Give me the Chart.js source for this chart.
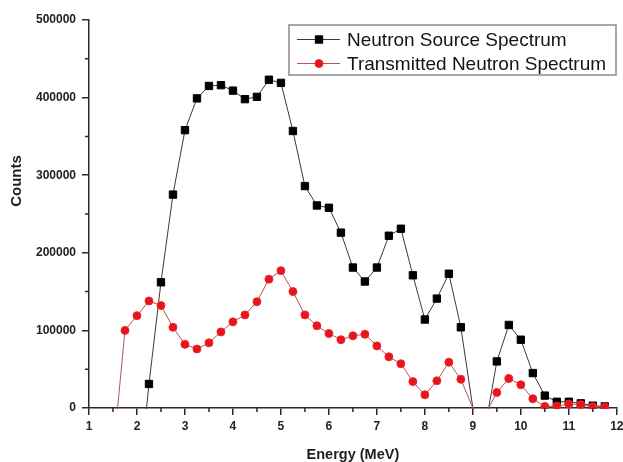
<!DOCTYPE html>
<html>
<head>
<meta charset="utf-8">
<script src="https://cdn.jsdelivr.net/npm/chart.js@4.4.1/dist/chart.umd.min.js"></script>
<style>
  html, body { margin: 0; padding: 0; background: #fff; }
  #wrap { width: 623px; height: 462px; }
</style>
</head>
<body>
<div id="wrap"><canvas id="spectrumChart" width="623" height="462"></canvas></div>
<script>
// energy bins in MeV (0.25 MeV steps)
const energy = [
    1.5, 1.75, 2, 2.25, 2.5, 2.75, 3, 3.25, 3.5, 3.75,
    4, 4.25, 4.5, 4.75, 5, 5.25, 5.5, 5.75, 6, 6.25,
    6.5, 6.75, 7, 7.25, 7.5, 7.75, 8, 8.25, 8.5, 8.75,
    9, 9.25, 9.5, 9.75, 10, 10.25, 10.5, 10.75, 11, 11.25,
    11.5, 11.75
];

// counts, negative values fall below the axis and get clipped like in the original plot
const sourceCounts = [
    null, null, -120000, 31000, 162000, 275000, 358000, 399000, 415000, 416000,
    409000, 398000, 401000, 423000, 419000, 357000, 286000, 261000, 258000, 226000,
    181000, 163000, 181000, 222000, 231000, 171000, 114000, 141000, 173000, 104000,
    0, -28000, 60000, 107000, 88000, 45000, 16000, 8000, 8000, 6000,
    3000, 2000
];
const transmittedCounts = [
    -62000, 100000, 119000, 138000, 132000, 104000, 82000, 76000, 84000, 98000,
    111000, 120000, 137000, 166000, 177000, 150000, 120000, 106000, 96000, 88000,
    93000, 95000, 80000, 66000, 57000, 34000, 17000, 35000, 59000, 37000,
    0, -9000, 20000, 38000, 30000, 12000, 2000, 2500, 5000, 4300,
    1700, 1300
];

const seriesLabels = ['Neutron Source Spectrum', 'Transmitted Neutron Spectrum'];
const yTicks = [0, 100000, 200000, 300000, 400000, 500000];

const axisColor = '#2a2a2a';
Chart.defaults.font.family = "'Liberation Sans', Arial, sans-serif";

function toPoints(values) {
    return energy.map((e, i) => ({ x: e, y: values[i] }));
}

// hide markers that sit at or below zero
function markerSize(r) {
    return ctx => {
        const v = ctx.raw && ctx.raw.y;
        return (v === null || v <= 0) ? 0 : r;
    };
}

// small ticks halfway between the labelled ones
const minorTicks = {
    id: 'minorTicks',
    afterDraw(chart) {
        const { ctx, chartArea } = chart;
        const x = chart.scales.x, y = chart.scales.y;
        ctx.save();
        ctx.strokeStyle = axisColor;
        ctx.lineWidth = 1.5;
        ctx.beginPath();
        for (let i = 0; i < yTicks.length - 1; i++) {
            const py = y.getPixelForValue((yTicks[i] + yTicks[i + 1]) / 2);
            ctx.moveTo(chartArea.left - 4, py);
            ctx.lineTo(chartArea.left, py);
        }
        for (let e = 1.5; e < 12; e += 1) {
            const px = x.getPixelForValue(e);
            ctx.moveTo(px, chartArea.bottom);
            ctx.lineTo(px, chartArea.bottom + 4);
        }
        ctx.stroke();
        ctx.restore();
    }
};

// y title sits a bit above centre in the original
const yTitle = {
    id: 'yTitle',
    afterDraw(chart) {
        const ctx = chart.ctx;
        ctx.save();
        ctx.translate(17, 181);
        ctx.rotate(-Math.PI / 2);
        ctx.fillStyle = '#1e1e1e';
        ctx.font = "bold 15px 'Liberation Sans', Arial, sans-serif";
        ctx.textAlign = 'center';
        ctx.textBaseline = 'middle';
        ctx.fillText('Counts', 0, 0);
        ctx.restore();
    }
};

// origin style legend: line with marker in the middle
const lineLegend = {
    id: 'lineLegend',
    afterDraw(chart) {
        const ctx = chart.ctx;
        const box = { x: 289, y: 25, w: 327, h: 50 };
        ctx.save();
        ctx.fillStyle = '#fff';
        ctx.fillRect(box.x, box.y, box.w, box.h);
        ctx.strokeStyle = '#8a8a8a';
        ctx.lineWidth = 1.5;
        ctx.strokeRect(box.x, box.y, box.w, box.h);
        chart.data.datasets.slice().sort((a, b) => a.legendIndex - b.legendIndex).forEach((ds, i) => {
            const cy = box.y + 14.5 + i * 24;
            ctx.strokeStyle = ds.borderColor;
            ctx.lineWidth = 1;
            ctx.beginPath();
            ctx.moveTo(box.x + 8, cy);
            ctx.lineTo(box.x + 51, cy);
            ctx.stroke();
            ctx.fillStyle = ds.pointBackgroundColor;
            ctx.strokeStyle = ds.pointBorderColor;
            ctx.beginPath();
            if (ds.pointStyle === 'rect') {
                ctx.rect(box.x + 30 - 3.7, cy - 3.7, 7.4, 7.4);
            } else {
                ctx.arc(box.x + 30, cy, 4, 0, Math.PI * 2);
            }
            ctx.fill();
            ctx.stroke();
            ctx.fillStyle = '#141414';
            ctx.font = "19px 'Liberation Sans', Arial, sans-serif";
            ctx.textBaseline = 'middle';
            ctx.fillText(ds.label, box.x + 58, cy + 1);
        });
        ctx.restore();
    }
};

const clipArea = { left: 5, top: 5, right: 5, bottom: 1 };

const config = {
    type: 'line',
    data: {
        datasets: [
            {
                label: seriesLabels[0],
                legendIndex: 0,
                data: toPoints(sourceCounts),
                borderColor: '#3a3a3a',
                borderWidth: 1,
                pointStyle: 'rect',
                pointRadius: markerSize(5.2),
                pointBackgroundColor: '#000',
                pointBorderColor: '#000',
                pointBorderWidth: 1,
                order: 1,
                clip: clipArea
            },
            {
                label: seriesLabels[1],
                legendIndex: 1,
                data: toPoints(transmittedCounts),
                borderColor: '#b5545a',
                borderWidth: 1,
                pointStyle: 'circle',
                pointRadius: markerSize(4),
                pointBackgroundColor: '#e8141b',
                pointBorderColor: '#ec2a2f',
                pointBorderWidth: 1,
                order: 0,
                clip: clipArea
            }
        ]
    },
    options: {
        responsive: false,
        animation: false,
        devicePixelRatio: 1,
        layout: { padding: { left: 0, top: 20, right: 6, bottom: 0 } },
        plugins: {
            legend: { display: false },
            tooltip: { enabled: false }
        },
        scales: {
            x: {
                type: 'linear',
                min: 1,
                max: 12,
                border: { color: axisColor, width: 1.5 },
                grid: { drawOnChartArea: false, tickLength: 7, color: axisColor, lineWidth: 1.5 },
                ticks: {
                    stepSize: 1,
                    padding: 4,
                    color: '#222',
                    font: { size: 12, weight: 'bold' },
                    callback: v => String(v)
                },
                title: {
                    display: true,
                    text: 'Energy (MeV)',
                    color: '#1e1e1e',
                    font: { size: 14.5, weight: 'bold', lineHeight: 1 },
                    padding: { top: 0, bottom: 0 }
                },
                afterFit: scale => {
                    scale.height = 54;
                    scale.paddingLeft = 0;
                    scale.paddingRight = 0;
                }
            },
            y: {
                min: 0,
                max: 500000,
                border: { color: axisColor, width: 1.5 },
                grid: { drawOnChartArea: false, tickLength: 7, color: axisColor, lineWidth: 1.5 },
                afterBuildTicks: scale => {
                    scale.ticks = yTicks.map(v => ({ value: v }));
                },
                ticks: {
                    padding: 6,
                    color: '#222',
                    font: { size: 12, weight: 'bold' },
                    callback: v => String(v)
                },
                afterFit: scale => {
                    scale.width = 89;
                    scale.paddingTop = 0;
                    scale.paddingBottom = 0;
                }
            }
        }
    },
    plugins: [minorTicks, yTitle, lineLegend]
};

const ctx = document.getElementById('spectrumChart').getContext('2d');
const chart = new Chart(ctx, config);
</script>
</body>
</html>
